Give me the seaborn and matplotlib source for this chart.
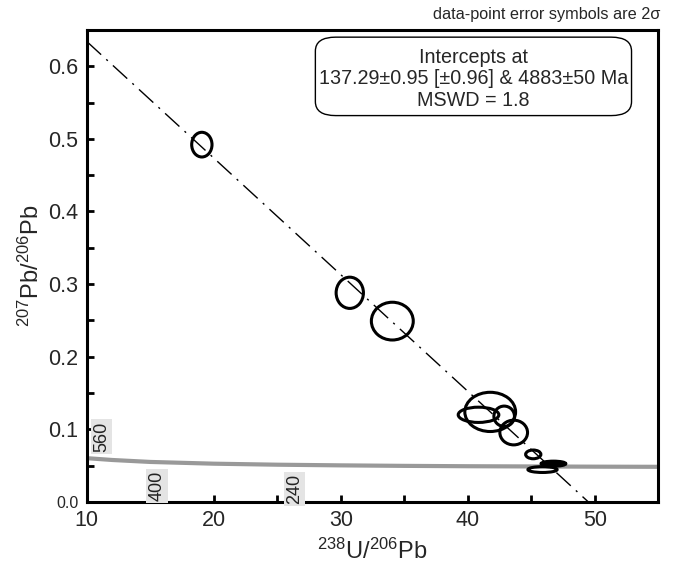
import numpy as np
import pandas as pd
import matplotlib
matplotlib.use("Agg")
import matplotlib.pyplot as plt
import seaborn as sns
from matplotlib.patches import Ellipse, FancyBboxPatch
from matplotlib.ticker import MultipleLocator

# data-point error ellipses (2 sigma)
ell_x = [19.06, 30.71, 34.06, 41.77, 40.85, 42.87, 43.62, 45.16, 45.89, 46.75]
ell_y = [0.492, 0.288, 0.249, 0.124, 0.120, 0.118, 0.0956, 0.0655, 0.0446, 0.0527]
ell_w = [1.60, 2.15, 3.30, 4.00, 3.20, 1.62, 2.18, 1.20, 2.30, 1.95]
ell_h = [0.034, 0.043, 0.052, 0.054, 0.021, 0.028, 0.034, 0.012, 0.008, 0.007]
ell_filled = [False, False, False, False, False, False, False, False, False, True]

# concordia curve (gray)
conc_x = [10, 12, 15, 20, 25, 30, 35, 40, 45, 50, 55]
conc_y = [0.0603, 0.0578, 0.0551, 0.0527, 0.0513, 0.0504, 0.0497, 0.0492, 0.0489, 0.0486, 0.0484]

# concordia age marks
age_labels = ["560", "400", "240"]
age_x = [11.16, 15.54, 26.38]
age_y = [0.090, 0.022, 0.018]

# discordia (regression) line
disc_x = [10, 49.5]
disc_y = [0.634, 0.0]

sns.set_style("ticks")
plt.rcParams['font.family'] = ['Liberation Sans', 'DejaVu Sans']
plt.rcParams['mathtext.fontset'] = 'custom'
plt.rcParams['mathtext.rm'] = 'Liberation Sans'
plt.rcParams['mathtext.it'] = 'Liberation Sans:italic'
plt.rcParams['mathtext.bf'] = 'Liberation Sans:bold'

fig = plt.figure(figsize=(6.73, 5.64), dpi=100)
ax = fig.add_axes([0.129, 0.110, 0.849, 0.837])

conc = pd.DataFrame({"x": conc_x, "y": conc_y})
sns.lineplot(data=conc, x="x", y="y", ax=ax, color="#999999", lw=3.0,
             sort=False, zorder=2)

disc = pd.DataFrame({"x": disc_x, "y": disc_y})
sns.lineplot(data=disc, x="x", y="y", ax=ax, color="black", lw=1.0,
             sort=False, zorder=3, dashes=False, linestyle=(0, (14, 5, 1.5, 5)))

for x, y, w, h, f in zip(ell_x, ell_y, ell_w, ell_h, ell_filled):
    e = Ellipse((x, y), w, h, facecolor="black" if f else "none",
                edgecolor="black", lw=2.2, zorder=4)
    ax.add_patch(e)

for lab, x, y in zip(age_labels, age_x, age_y):
    ax.text(x, y, lab, rotation=90, ha="center", va="center", fontsize=13,
            color="#222222", zorder=5,
            bbox=dict(boxstyle="square,pad=0.12", fc="#e4e4e4", ec="none"))

ax.set_xlim(10, 55)
ax.set_ylim(0, 0.65)
ax.xaxis.set_major_locator(MultipleLocator(10))
ax.xaxis.set_minor_locator(MultipleLocator(5))
ax.yaxis.set_major_locator(MultipleLocator(0.1))
ax.yaxis.set_minor_locator(MultipleLocator(0.05))
ax.set_yticks([0, 0.1, 0.2, 0.3, 0.4, 0.5, 0.6])
ax.set_yticklabels(["0.0", "0.1", "0.2", "0.3", "0.4", "0.5", "0.6"])
ax.tick_params(which="both", direction="in", length=5, width=2,
               labelsize=15.5, color="black", pad=6)
for lbl in ax.get_yticklabels():
    if lbl.get_text() == "0.0":
        lbl.set_fontsize(11.5)

for s in ax.spines.values():
    s.set_linewidth(2.2)
    s.set_color("black")

ax.set_xlabel(r"$^{238}$U/$^{206}$Pb", fontsize=17, labelpad=5)
ax.set_ylabel(r"$^{207}$Pb/$^{206}$Pb", fontsize=17, labelpad=3)

# intercept box
box = FancyBboxPatch((28.0, 0.532), 24.9, 0.108,
                     boxstyle="round,pad=0,rounding_size=1.6",
                     mutation_aspect=0.012,
                     fc="white", ec="black", lw=1.0, zorder=6)
ax.add_patch(box)
ax.text(40.45, 0.5825, "Intercepts at\n137.29±0.95 [±0.96] & 4883±50 Ma\nMSWD = 1.8",
        ha="center", va="center", fontsize=14.2, linespacing=1.15, zorder=7)

fig.text(0.981, 0.975, "data-point error symbols are 2σ", ha="right",
         va="center", fontsize=11.7)

fig.savefig("out.png", dpi=100)
